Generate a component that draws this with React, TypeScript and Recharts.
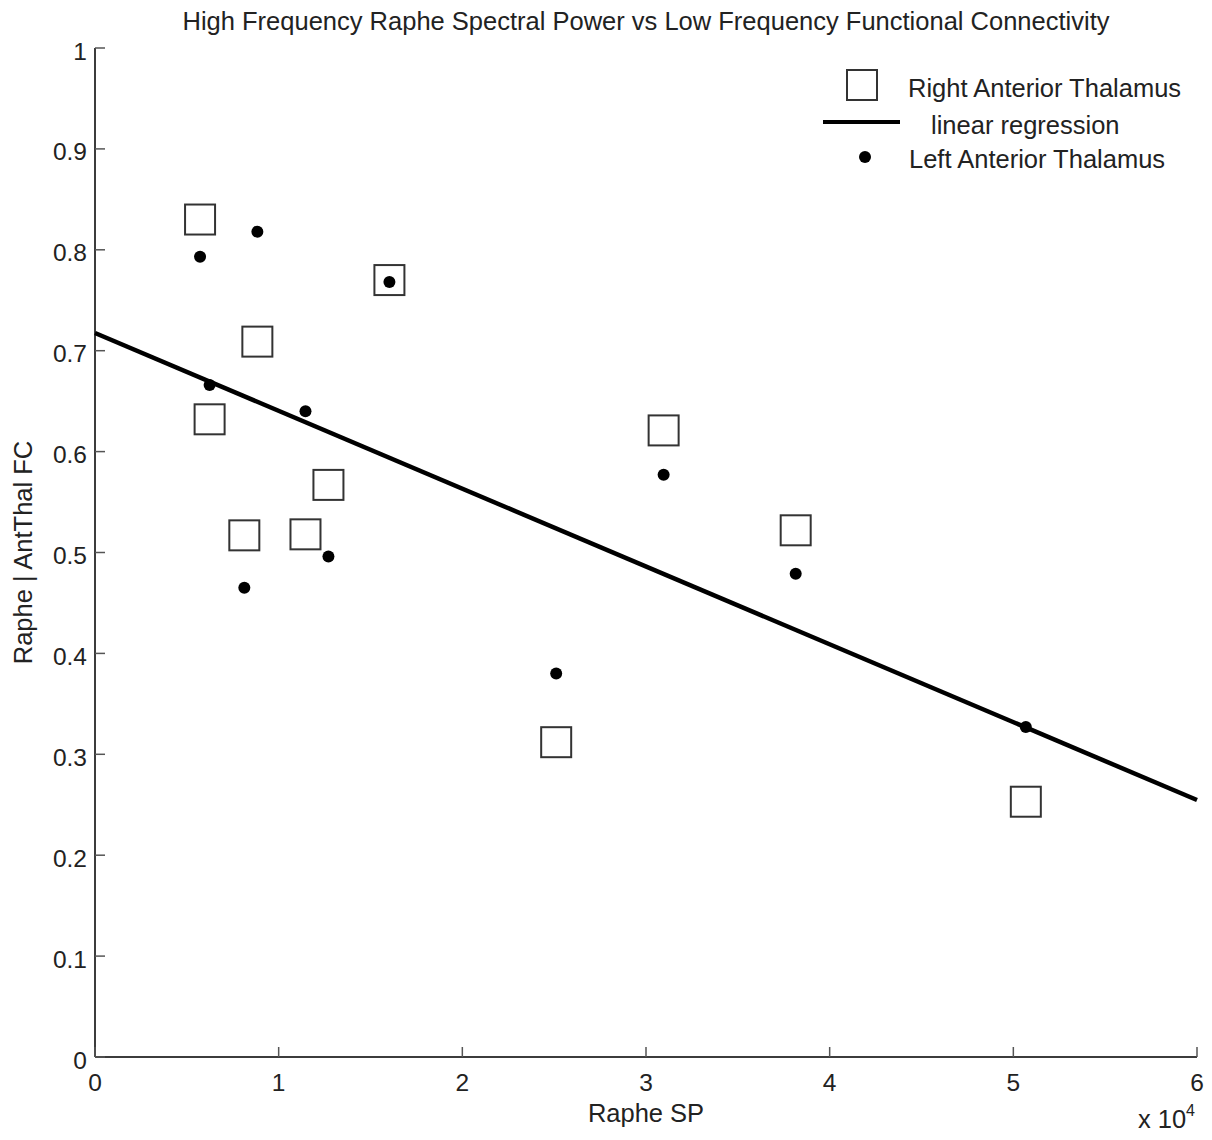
import React from "react";
import { Label, Legend, Scatter, ScatterChart, XAxis, YAxis } from "recharts";

// raphe spectral power per subject, in units of 10^4
const rapheSP = [0.572, 0.624, 0.813, 0.884, 1.146, 1.271, 1.603, 2.511, 3.096, 3.815, 5.068];
const rightFC = [0.83, 0.632, 0.517, 0.709, 0.518, 0.567, 0.77, 0.312, 0.621, 0.522, 0.253];
const leftFC = [0.793, 0.666, 0.465, 0.818, 0.64, 0.496, 0.768, 0.38, 0.577, 0.479, 0.327];

// fitted line read at the two ends of the x range
const regX = [0, 6];
const regY = [0.7175, 0.2547];

const xTicks = [0, 1, 2, 3, 4, 5, 6];
const yTicks = [0, 0.1, 0.2, 0.3, 0.4, 0.5, 0.6, 0.7, 0.8, 0.9, 1];
const yTickLabels = ["0", "0.1", "0.2", "0.3", "0.4", "0.5", "0.6", "0.7", "0.8", "0.9", "1"];

const seriesNames = ["Right Anterior Thalamus", "linear regression", "Left Anterior Thalamus"];

const rightData = rapheSP.map((x, i) => ({ x, y: rightFC[i] }));
const leftData = rapheSP.map((x, i) => ({ x, y: leftFC[i] }));
const regData = regX.map((x, i) => ({ x, y: regY[i] }));

const FONT = '"Liberation Sans", Arial, sans-serif';
const AXIS = "#3c3c3c";
const TEXT = 25.5;

const XTick = (props: any) => {
  const { x, y, payload } = props;
  return (
    <g>
      <line x1={x} x2={x} y1={y} y2={y - 10} stroke="#555" strokeWidth={1.5} />
      <text x={x} y={y + 25} textAnchor="middle" dominantBaseline="central" fontSize={24.5} fill="#222" fontFamily={FONT}>
        {payload.value}
      </text>
    </g>
  );
};

const YTick = (props: any) => {
  const { x, y, payload, index } = props;
  return (
    <g>
      <line x1={x} x2={x + 10} y1={y} y2={y} stroke="#555" strokeWidth={1.5} />
      <text x={x - 8} y={y + 3} textAnchor="end" dominantBaseline="central" fontSize={24.5} fill="#222" fontFamily={FONT}>
        {yTickLabels[index] ?? payload.value}
      </text>
    </g>
  );
};

const SquareMark = (p: any) => (
  <rect x={p.cx - 15} y={p.cy - 15} width={30} height={30} fill="none" stroke="#333" strokeWidth={2} />
);
const DotMark = (p: any) => <circle cx={p.cx} cy={p.cy} r={6} fill="#000" />;
const NoMark = () => <g />;

const LegendBox = () => (
  <svg width={400} height={130} style={{ fontFamily: FONT }}>
    <rect x={37} y={10} width={30} height={30} fill="none" stroke="#333" strokeWidth={2} />
    <text x={98} y={28} dominantBaseline="central" fontSize={TEXT} fill="#222">
      {seriesNames[0]}
    </text>
    <line x1={13} x2={90} y1={62} y2={62} stroke="#000" strokeWidth={4} />
    <text x={121} y={65} dominantBaseline="central" fontSize={TEXT} fill="#222">
      {seriesNames[1]}
    </text>
    <circle cx={55} cy={97} r={6} fill="#000" />
    <text x={99} y={99} dominantBaseline="central" fontSize={TEXT} fill="#222">
      {seriesNames[2]}
    </text>
  </svg>
);

const ExpLabel = (props: any) => {
  const { viewBox } = props;
  const right = viewBox.x + viewBox.width;
  return (
    <text x={right - 2} y={viewBox.y + 71} textAnchor="end" fontSize={TEXT} fill="#222" fontFamily={FONT}>
      x 10
      <tspan dy={-12} fontSize={16}>4</tspan>
    </text>
  );
};

const App = () => {
  return (
    <div style={{ position: "absolute", left: 0, top: 0, width: 1212, height: 1140, background: "#fff" }}>
      <div
        style={{
          position: "absolute",
          left: 0,
          top: 7,
          width: 1292,
          textAlign: "center",
          fontFamily: FONT,
          fontSize: TEXT,
          color: "#222",
          whiteSpace: "nowrap",
        }}
      >
        High Frequency Raphe Spectral Power vs Low Frequency Functional Connectivity
      </div>
      <ScatterChart width={1212} height={1140} margin={{ top: 48, right: 15, bottom: 0, left: 0 }}>
        <XAxis
          type="number"
          dataKey="x"
          domain={[0, 6]}
          ticks={xTicks}
          interval={0}
          height={83}
          tickSize={0}
          tickMargin={0}
          tickLine={false}
          tick={<XTick />}
          axisLine={{ stroke: AXIS, strokeWidth: 2 }}
        >
          <Label value="Raphe SP" position="insideBottom" offset={18} fontSize={TEXT} fill="#222" fontFamily={FONT} />
          <Label content={<ExpLabel />} />
        </XAxis>
        <YAxis
          type="number"
          dataKey="y"
          domain={[0, 1]}
          ticks={yTicks}
          interval={0}
          width={95}
          tickSize={0}
          tickMargin={0}
          tickLine={false}
          tick={<YTick />}
          axisLine={{ stroke: AXIS, strokeWidth: 2 }}
        >
          <Label
            value="Raphe | AntThal FC"
            angle={-90}
            position="insideLeft"
            offset={23}
            fontSize={TEXT}
            fill="#222"
            fontFamily={FONT}
            style={{ textAnchor: "middle" }}
          />
        </YAxis>
        <Legend
          layout="vertical"
          align="center"
          verticalAlign="middle"
          content={<LegendBox />}
          wrapperStyle={{ left: 810, top: 60, width: 400, height: 130 }}
        />
        <Scatter name={seriesNames[0]} data={rightData} shape={<SquareMark />} isAnimationActive={false} />
        <Scatter
          name={seriesNames[1]}
          data={regData}
          line={{ stroke: "#000", strokeWidth: 4.5 }}
          shape={<NoMark />}
          isAnimationActive={false}
        />
        <Scatter name={seriesNames[2]} data={leftData} shape={<DotMark />} isAnimationActive={false} />
      </ScatterChart>
    </div>
  );
};

export default App;
